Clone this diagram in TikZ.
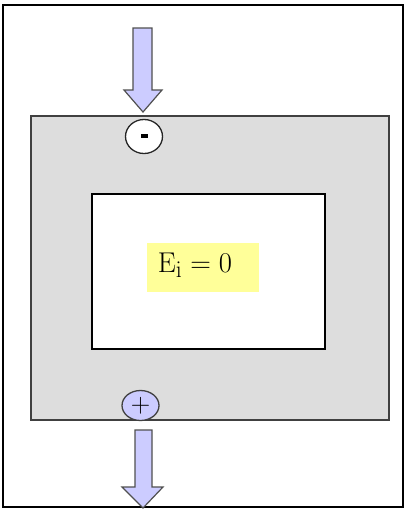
\documentclass[tikz,border=0pt]{standalone}
\usepackage{graphicx}
\usetikzlibrary{shapes.geometric}
\begin{document}
\begin{tikzpicture}[x=1pt,y=-1pt,
  arrowshape/.style={fill=arrowfill,draw=arrowline,line width=1.2pt,line join=miter},
  pole/.style={ellipse,line width=1.3pt,inner sep=0pt}]
\definecolor{arrowfill}{HTML}{CCCCFF}
\definecolor{arrowline}{HTML}{505050}
\definecolor{grayfill}{HTML}{DDDDDD}
\definecolor{yell}{HTML}{FFFF99}
\useasboundingbox (0,0) rectangle (404,509);
\draw[line width=2.2pt] (3,5) rectangle (403,507);
\draw[fill=grayfill,draw=black!75,line width=1.6pt] (31,116) rectangle (389,420);
\draw[fill=white,draw=black,line width=1.2pt] (92,194) rectangle (325,349);
\fill[yell] (147,243) rectangle (259,292);
\node[anchor=base,inner sep=0pt,font=\Huge] (E) at (195,272) {\scalebox{1.15}{$\mathrm{E}_{\mathrm{i}} = 0$}};
\draw[arrowshape] (133,28) -- (152,28) -- (152,90) -- (162,90) -- (143,112) -- (124,90) -- (133,90) -- cycle;
\draw[arrowshape] (135,430) -- (152,430) -- (152,487) -- (163,487) -- (143,508) -- (122,487) -- (135,487) -- cycle;
\node[pole,fill=white,draw=black!85,minimum width=37pt,minimum height=34pt] (minus) at (144,136.5) {};
\fill[black] ([xshift=-3.5pt,yshift=-1.5pt]minus.center) rectangle ([xshift=3.5pt,yshift=2.5pt]minus.center);
\node[pole,fill=arrowfill,draw=arrowline!80!black,minimum width=37pt,minimum height=30pt,font=\huge] (plus) at (140.5,405.5) {\scalebox{1.3}{+}};
\end{tikzpicture}
\end{document}
